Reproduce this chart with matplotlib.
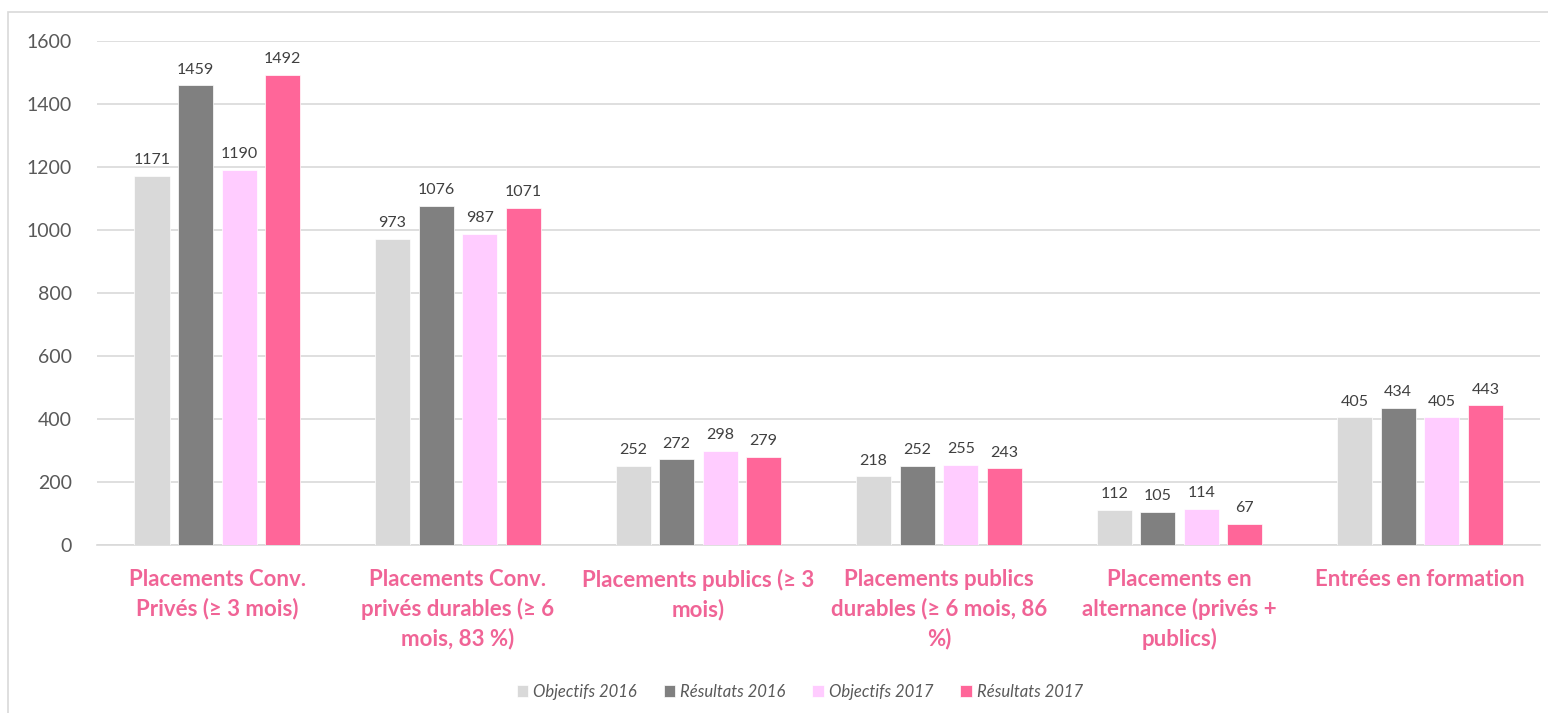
import matplotlib.pyplot as plt
import numpy as np
from matplotlib.patches import Rectangle

plt.rcParams['font.family'] = ['Lato', 'DejaVu Sans']

categories = ["Placements Conv.\nPrivés (≥ 3 mois)",
              "Placements Conv.\nprivés durables (≥ 6\nmois, 83 %)",
              "Placements publics (≥ 3\nmois)",
              "Placements publics\ndurables (≥ 6 mois, 86\n%)",
              "Placements en\nalternance (privés +\npublics)",
              "Entrées en formation"]
series_names = ["Objectifs 2016", "Résultats 2016", "Objectifs 2017", "Résultats 2017"]
obj_2016 = [1171, 973, 252, 218, 112, 405]
res_2016 = [1459, 1076, 272, 252, 105, 434]
obj_2017 = [1190, 987, 298, 255, 114, 405]
res_2017 = [1492, 1071, 279, 243, 67, 443]
colors = ["#D9D9D9", "#808080", "#FFCCFF", "#FF6699"]

fig = plt.figure(figsize=(15.48, 7.13), dpi=100)
ax = fig.add_axes([0.0627, 0.2356, 0.9323, 0.7069])

# cadre gris autour du graphique
fig.patches.append(Rectangle((0.005, -0.01), 1.2, 0.993, transform=fig.transFigure,
                             fill=False, edgecolor="#D9D9D9", linewidth=1.2))

x = np.arange(len(categories))
w = 0.146
step = 0.181
all_series = [obj_2016, res_2016, obj_2017, res_2017]
for i, vals in enumerate(all_series):
    pos = x + (i - 1.5) * step
    bars = ax.bar(pos, vals, w, color=colors[i], label=series_names[i],
                  edgecolor="white", linewidth=0.5, zorder=3)
    for b, v in zip(bars, vals):
        ax.text(b.get_x() + b.get_width() / 2, v + 28, str(v), ha="center", va="bottom",
                fontsize=11.5, color="#404040")

ax.set_xlim(-0.5, len(categories) - 0.5)
ax.set_ylim(0, 1600)
ax.set_yticks(range(0, 1601, 200))
ax.yaxis.grid(True, color="#D9D9D9", linewidth=1.2, zorder=0)
for s in ["top", "right", "left"]:
    ax.spines[s].set_visible(False)
ax.spines["bottom"].set_color("#D9D9D9")
ax.spines["bottom"].set_linewidth(1.2)
ax.tick_params(axis="y", length=0, labelsize=14, labelcolor="#595959", pad=18)
ax.tick_params(axis="x", length=0, pad=17)
ax.set_xticks(x)
ax.set_xticklabels(categories, fontsize=16, fontweight="bold", color="#F06496",
                   linespacing=1.45)

ax.legend(loc="upper center", bbox_to_anchor=(0.487, -0.245), ncol=4, frameon=False,
          prop={"style": "italic", "size": 12}, labelcolor="#595959",
          handlelength=0.7, handleheight=0.7, handletextpad=0.3, columnspacing=1.6)

fig.savefig("out.png", dpi=100)
